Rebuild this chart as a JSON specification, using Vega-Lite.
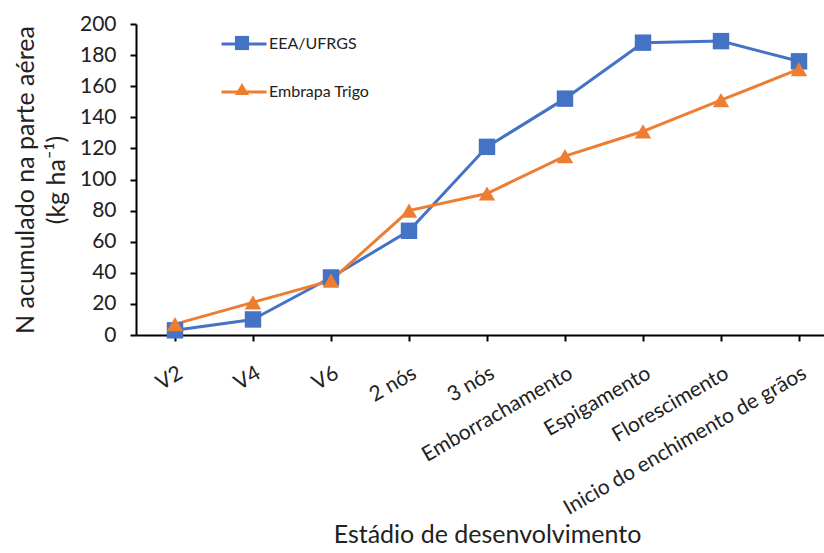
{
  "$schema": "https://vega.github.io/schema/vega-lite/v6.json",
  "autosize": "none",
  "padding": {"left": 136, "top": 24, "right": 0, "bottom": 218},
  "width": 702,
  "height": 311,
  "background": "white",
  "config": {
    "font": "Lato",
    "view": {"stroke": null},
    "axis": {"grid": false, "domainColor": "#000000", "tickColor": "#000000", "domainWidth": 2, "tickWidth": 2, "labelColor": "#222222", "titleColor": "#222222", "labelFont": "Lato", "titleFont": "Lato", "titleFontWeight": "normal"}
  },
  "data": {
    "values": [
      {"estadio": "V2", "serie": "EEA/UFRGS", "n": 3},
      {"estadio": "V4", "serie": "EEA/UFRGS", "n": 10},
      {"estadio": "V6", "serie": "EEA/UFRGS", "n": 37},
      {"estadio": "2 nós", "serie": "EEA/UFRGS", "n": 67},
      {"estadio": "3 nós", "serie": "EEA/UFRGS", "n": 121},
      {"estadio": "Emborrachamento", "serie": "EEA/UFRGS", "n": 152},
      {"estadio": "Espigamento", "serie": "EEA/UFRGS", "n": 188},
      {"estadio": "Florescimento", "serie": "EEA/UFRGS", "n": 189},
      {"estadio": "Inicio do enchimento de grãos", "serie": "EEA/UFRGS", "n": 176},
      {"estadio": "V2", "serie": "Embrapa Trigo", "n": 7},
      {"estadio": "V4", "serie": "Embrapa Trigo", "n": 21},
      {"estadio": "V6", "serie": "Embrapa Trigo", "n": 35},
      {"estadio": "2 nós", "serie": "Embrapa Trigo", "n": 80},
      {"estadio": "3 nós", "serie": "Embrapa Trigo", "n": 91},
      {"estadio": "Emborrachamento", "serie": "Embrapa Trigo", "n": 115},
      {"estadio": "Espigamento", "serie": "Embrapa Trigo", "n": 131},
      {"estadio": "Florescimento", "serie": "Embrapa Trigo", "n": 151},
      {"estadio": "Inicio do enchimento de grãos", "serie": "Embrapa Trigo", "n": 171}
    ]
  },
  "encoding": {
    "x": {
      "field": "estadio", "type": "ordinal", "sort": null,
      "scale": {"type": "point", "padding": 0.5},
      "axis": {"title": "Estádio de desenvolvimento", "titleFontSize": 25, "titlePadding": 4, "labelAngle": -30, "labelFontSize": 21, "labelPadding": 21, "labelLimit": 0, "tickSize": 6}
    },
    "y": {
      "field": "n", "type": "quantitative",
      "scale": {"domain": [0, 200], "nice": false},
      "axis": {"title": ["N acumulado na parte aérea", "(kg ha⁻¹)"], "titleFontSize": 25, "titlePadding": 10, "titleLineHeight": 31, "values": [0,20,40,60,80,100,120,140,160,180,200], "labelFontSize": 21, "tickSize": 6, "labelPadding": 14}
    }
  },
  "resolve": {"legend": {"color": "independent", "shape": "independent"}},
  "layer": [
    {
      "mark": {"type": "line", "strokeWidth": 3},
      "encoding": {
        "color": {
          "field": "serie", "type": "nominal",
          "scale": {"domain": ["EEA/UFRGS", "Embrapa Trigo"], "range": ["#4472C4", "#ED7D31"]},
          "legend": {"title": null, "orient": "none", "legendX": 84, "legendY": -4, "symbolType": "stroke", "symbolSize": 2025, "symbolStrokeWidth": 3, "labelFontSize": 16, "labelFont": "Lato", "labelColor": "#222222", "labelOffset": 1, "rowPadding": 16}
        }
      }
    },
    {
      "mark": {"type": "point", "filled": true, "opacity": 1, "size": 270},
      "encoding": {
        "color": {
          "field": "serie", "type": "nominal",
          "scale": {"domain": ["EEA/UFRGS", "Embrapa Trigo"], "range": ["#4472C4", "#ED7D31"]},
          "legend": {"title": null, "orient": "none", "legendX": 98, "legendY": 11, "symbolSize": 200, "labelExpr": "''", "labelFontSize": 16, "labelOffset": 0, "rowPadding": 30}
        },
        "shape": {
          "field": "serie", "type": "nominal",
          "scale": {"domain": ["EEA/UFRGS", "Embrapa Trigo"], "range": ["square", "triangle-up"]},
          "legend": {"title": null, "orient": "none", "legendX": 98, "legendY": 11, "symbolSize": 200, "labelExpr": "''", "labelFontSize": 16, "labelOffset": 0, "rowPadding": 30}
        }
      }
    }
  ]
}
